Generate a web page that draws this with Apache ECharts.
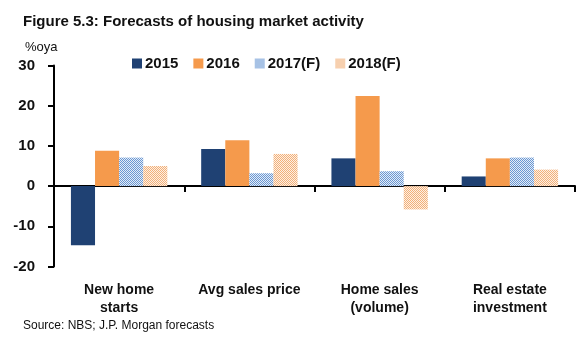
<!DOCTYPE html>
<html><head><meta charset="utf-8">
<script src="https://cdn.jsdelivr.net/npm/echarts@6/dist/echarts.min.js"></script>
<style>html,body{margin:0;padding:0;background:#fff}#c{width:584px;height:343px}</style>
</head><body><div id="c"></div>
<script>
const categories = ['New home\nstarts', 'Avg sales price', 'Home sales\n(volume)', 'Real estate\ninvestment'];
const seriesNames = ['2015', '2016', '2017(F)', '2018(F)'];
const v2015 = [-14.7, 9.2, 6.9, 2.4];
const v2016 = [8.8, 11.4, 22.4, 6.9];
const v2017 = [7.1, 3.2, 3.7, 7.1];
const v2018 = [5.0, 8.0, -5.8, 4.1];
const yTicks = [-20, -10, 0, 10, 20, 30];

const FONT = "'Liberation Sans', Arial, sans-serif";

function checker(c1, c2) {
  const cv = document.createElement('canvas');
  cv.width = 2; cv.height = 2;
  const ctx = cv.getContext('2d');
  ctx.fillStyle = c2; ctx.fillRect(0, 0, 2, 2);
  ctx.fillStyle = c1; ctx.fillRect(0, 0, 1, 1); ctx.fillRect(1, 1, 1, 1);
  return { image: cv, repeat: 'repeat' };
}
const navy = '#1f4173';
const orange = '#f59a4c';
const blueChk = checker('#6b97d2', '#e4edf8');
const orangeChk = checker('#f2b07a', '#fdf0e4');
const colors = [navy, orange, blueChk, orangeChk];
const data = [v2015, v2016, v2017, v2018];

const chart = echarts.init(document.getElementById('c'), null, { renderer: 'canvas' });
chart.setOption({
  animation: false,
  backgroundColor: '#fff',
  title: [
    { text: 'Figure 5.3: Forecasts of housing market activity', left: 18, top: 9,
      textStyle: { fontFamily: FONT, fontSize: 15, fontWeight: 'bold', color: '#111' } },
    { text: '%oya', left: 20, top: 36,
      textStyle: { fontFamily: FONT, fontSize: 13, fontWeight: 'normal', color: '#111' } },
    { text: 'Source: NBS; J.P. Morgan forecasts', left: 18, top: 315,
      textStyle: { fontFamily: FONT, fontSize: 12, fontWeight: 'normal', color: '#111' } }
  ],
  legend: {
    left: 127, top: 51, itemWidth: 10, itemHeight: 10, itemGap: 15,
    icon: 'rect',
    textStyle: { fontFamily: FONT, fontSize: 15, fontWeight: 'bold', color: '#111', padding: [0, 0, 0, -2] },
    data: seriesNames
  },
  grid: { left: 54, right: 9, top: 65.5, bottom: 76.5, containLabel: false },
  xAxis: [
    { type: 'category', data: categories,
      axisLine: { onZero: true, lineStyle: { color: '#000', width: 2 } },
      axisTick: { show: true, inside: false, length: 6, lineStyle: { color: '#000', width: 2 } },
      axisLabel: { show: false }, splitLine: { show: false } },
    { type: 'category', data: categories, position: 'bottom',
      axisLine: { show: false, onZero: false }, axisTick: { show: false },
      axisLabel: { show: true, margin: 15, fontFamily: FONT, fontSize: 14, fontWeight: 'bold', color: '#111', lineHeight: 18, interval: 0 } }
  ],
  yAxis: {
    type: 'value', min: yTicks[0], max: yTicks[yTicks.length - 1], interval: 10,
    axisLine: { show: true, lineStyle: { color: '#000', width: 2 } },
    axisTick: { show: true, inside: false, length: 6, lineStyle: { color: '#000', width: 2 } },
    axisLabel: { fontFamily: FONT, fontSize: 15, fontWeight: 'bold', color: '#111', margin: 19 },
    splitLine: { show: false }
  },
  series: seriesNames.map((n, i) => ({
    name: n, type: 'bar', xAxisIndex: 0, data: data[i],
    barGap: '0%', barCategoryGap: '26%',
    itemStyle: { color: colors[i] }
  }))
});
</script></body></html>
